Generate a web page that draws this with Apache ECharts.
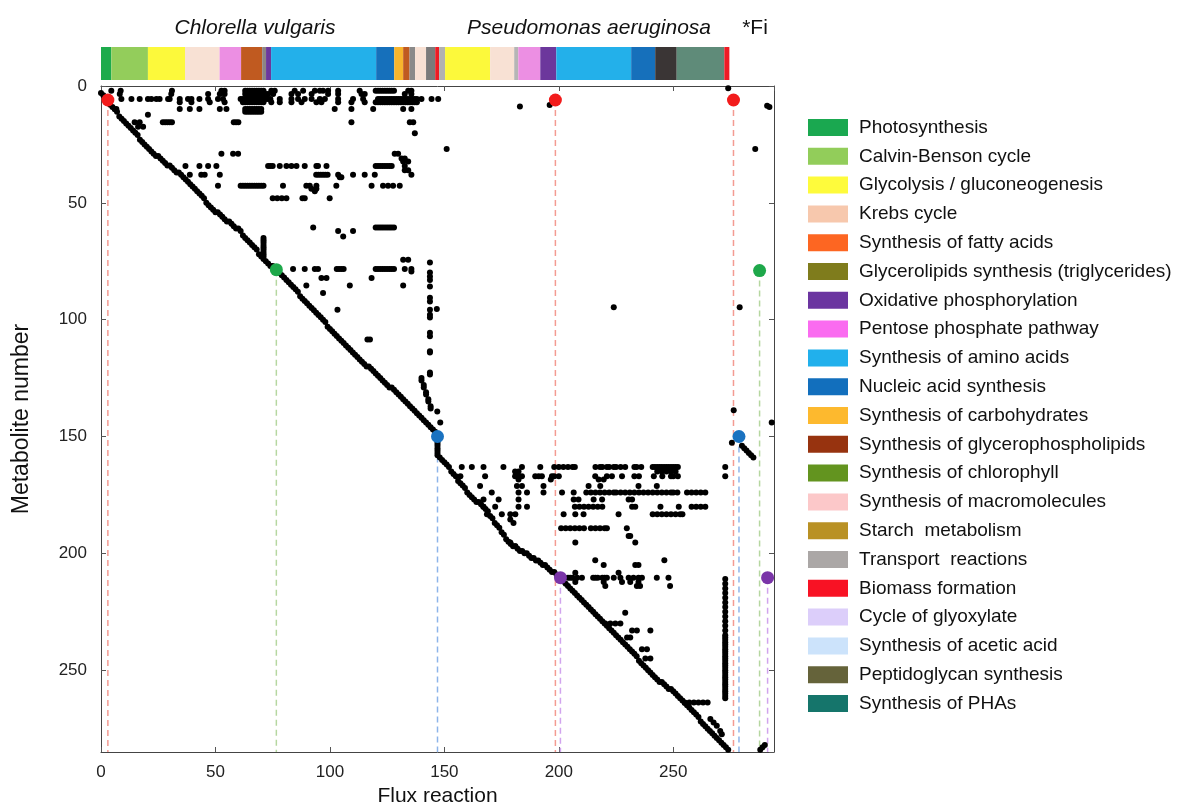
<!DOCTYPE html>
<html>
<head>
<meta charset="utf-8">
<script src="https://cdn.jsdelivr.net/npm/echarts@6/dist/echarts.min.js"></script>
<style>html,body{margin:0;padding:0;background:#fff}#chart{width:1184px;height:805px}</style>
</head>
<body>
<div id="chart"></div>
<script>
// ---------------- DATA ----------------
const xTicks = [0, 50, 100, 150, 200, 250];
const yTicks = [0, 50, 100, 150, 200, 250];

// Pathway colour strip above the matrix: segment edges (reaction number) and colours
const stripEdges = [0,4.5,20.5,36.7,51.8,61.2,70.4,72.1,74.3,120.2,128.1,132,134.8,137.2,142,146,147.7,150.3,170,180.5,182.3,191.9,198.9,231.6,242.1,251.5,272.3,274.5];
const stripColors = ['#1dab4c','#93cd5b','#fcf93b','#f8e1d4','#ec8fe3','#c05a20','#8c8585','#6c379c','#23b0ea','#1670bb','#f8b52d','#c05a20','#8a8a8a','#f8e1d4','#7b7b7b','#ee1c25','#b1b1b1','#fcf93b','#f8e1d4','#b5b5b5','#ec8fe3','#6c379c','#23b0ea','#1670bb','#3a3535','#5f8b79','#ee1c25'];

// Legend
const legendNames = ['Photosynthesis','Calvin-Benson cycle','Glycolysis / gluconeogenesis','Krebs cycle','Synthesis of fatty acids','Glycerolipids synthesis (triglycerides)','Oxidative phosphorylation','Pentose phosphate pathway','Synthesis of amino acids','Nucleic acid synthesis','Synthesis of carbohydrates','Synthesis of glycerophospholipids','Synthesis of chlorophyll','Synthesis of macromolecules','Starch  metabolism','Transport  reactions','Biomass formation','Cycle of glyoxylate','Synthesis of acetic acid','Peptidoglycan synthesis','Synthesis of PHAs'];
const legendColors = ['#1aa850','#92cd5a','#fefb3c','#f7c8ad','#fd6622','#7f7c1c','#6b35a0','#fa6bf0','#21b0ec','#126fbd','#fdb92e','#97330f','#63941f','#fcc8c9','#b99124','#aba7a6','#f81224','#dccefa','#cce3fb','#65633a','#15756b'];

// Diagonal: metabolite number for each flux reaction 0..274
const diagonalRows = [
 3,4,5,6,8,9,10,11,13,14,
 15,16,17,18,19,20,21,23,24,25,
 26,27,28,29,30,30,31,32,33,34,
 34,35,36,37,37,38,39,40,41,42,
 43,44,45,46,47,48,50,51,52,53,
 54,54,55,56,57,58,58,59,60,61,
 61,62,64,65,66,67,68,69,70,72,
 73,74,75,76,77,77,78,79,80,81,
 82,83,84,85,86,87,88,90,91,92,
 93,94,95,96,97,98,99,100,101,103,
 104,105,106,107,108,109,110,111,112,113,
 114,115,116,117,118,119,120,120,121,122,
 123,124,125,126,127,128,129,129,130,131,
 132,133,134,135,136,137,138,139,140,141,
 142,143,144,145,146,147,148,149,159,160,
 161,162,163,165,166,167,169,170,171,172,
 174,175,176,177,178,178,179,180,181,182,
 184,185,187,188,189,191,192,194,195,196,
 197,197,198,199,199,200,200,201,202,202,
 203,203,204,205,205,206,207,208,208,209,
 210,211,212,213,214,215,216,217,218,219,
 220,221,222,223,224,225,226,227,228,229,
 230,231,232,233,234,235,236,237,238,239,
 240,241,242,243,244,246,247,248,249,250,
 251,252,253,254,255,255,256,257,258,258,
 259,260,261,262,263,264,265,266,267,268,
 269,270,272,273,274,275,276,277,278,279,
 280,281,282,283,284
];

// Off-diagonal entries, Chlorella block: [metabolite, [reactions]]
const chlorellaRows = [
 [2, [4.5,8.6,31,52.6,54,63,64,65,66,67,68,69,70,71,74.4,75.9,84.6,88.3,93.4,95.6,97,99.2,103.6,113,120,121,122,123,124,125,126,127,128,134.2,135.6]],
 [3.4, [8.2,30.7,46.8,51.9,54,63,64,65,66,67,68,69,70,71,72,73,75.2,83.2,86.1,92,99.2,103.6,113.8,115.2,132.7,135.6]],
 [5.6, [8.9,13.3,16.9,20.5,22,24.2,25.6,29.3,30,34.4,38,39.5,43,46.8,51.1,53.3,61,62,63,64,65,66,67,68,69,70,71,72,73,74,78.1,83.2,86.1,89,92,95.6,97.8,103.6,110.1,114.5,121,122,123,124,125,126,127,128,129,130,131,132,133,134,135,136,137,138,140,144.4,147.3]],
 [7, [34.4,39.5,47.5,54,62,63,64,65,66,67,68,69,70,71,74.4,78.1,83.2,87.6,94.1,96.3,103.6,109.4,115.2,120,121,122,123,124,125,126,127,128,129,130,131,132,133,134,135,136,137,138]],
 [9.8, [6.7,34.4,38.8,43,51.9,54.8,63,64,65,66,67,68,69,70,102.1,109.4,118.9,132,135.6]],
 [11, [63,64,65,66,67,68,69,70]],
 [12.3, [20.5]],
 [15.5, [14.7,16.9,27,28,29,30,31,58,59,60,109.4,134.9,136.4]],
 [17.4, [16.2,18.4]],
 [20.2, [137.1]],
 [29, [52.6,57.7,59.9,128.3,129.8]],
 [31, [131.3,132.7]],
 [32.3, [132,134.2]],
 [34.2, [36.9,43,46.8,50.4,73,74,75,78.1,81,83.2,85.4,89,94.1,94.8,98.5,120,121,122,123,124,125,126,127,132.7]],
 [36, [132.7,134.2]],
 [38, [38.8,43.8,45.3,51.9,94,95,96,97,98,99,103.6,110.1,115.2,119.6,135.6]],
 [39, [104.3,105]],
 [42.7, [51.1,61,62,63,64,65,66,67,68,69,70,71,79.5,89.7,91.2,94.1,102.8,118.2,123.2,125.4,127.6,130.5]],
 [44, [91.9,94.1]],
 [45, [93.4]],
 [48, [75,77,79,81,88,89,99.9]],
 [60.5, [92.7,120,121,122,123,124,125,126,127,128]],
 [62, [103.6,110.1]],
 [64.4, [105.8]],
 [74.4, [132,134.2]],
 [78.3, [83.9,89,93.4,94.8,103,104,105,106,120,121,122,123,124,125,126,127,128,132.7,135.6]],
 [79.4, [135.6]],
 [82.2, [96.3,98.5,118.2]],
 [85.4, [89.7,108.7,132]],
 [88.6, [97]],
 [95.7, [103.3]],
 [108.5, [116.4,117.5]]
];

// Off-diagonal entries, Pseudomonas block: [metabolite, [reactions]]
const pseudomonasRows = [
 [163, [157.6,162,167.1,175.8,183.9,191.9,198,200,202,204,206,207,216,218,219,221,222,224,225,227,229,233,234,236,241,242,243,244,245,246,247,248,249,250,251,252]],
 [165, [180.9,182.4,243,245,247,249,251]],
 [167, [157,167.8,180.9,182.4,183.9,189.7,191.2,192.6,197,198,200,215.9,221,223.2,227.6,233,235,241.5,245.2,249,250,252]],
 [168.4, [182.4,196.5,217.4,219.6]],
 [171.2, [165.6,181.7,183.9,193.3,213,218.1,234.8,242.8]],
 [174, [170.7,182.4,186.1,193.3,201.4,206.5,212,214,216,218,220,222,224,225,227,229,231,233,235,237,239,241,243,245,247,249,250,251.8,256,258,260,262,264]],
 [177, [167.1,173.7,182.4,206.5,208.6,215.2,218.9,230.5,232]],
 [180, [167.1,172.2,182.4,186.1,207,209,211,213,215,217,219,232,233.4,244.4,252.4,258,260,262,264]],
 [183.3, [168.6,175.1,178.8,181,202.1,207.2,210.8,226.1,241,243,245,247,249,251,253,254]],
 [185.5, [178.8]],
 [187, [180.2]],
 [189.3, [201,203,205,207,209,211,214,216,218,220,221,229.7]],
 [192.6, [230.5,231.2]],
 [195.4, [178.8,207.2,233.4]],
 [197, [181]],
 [202.9, [215.9,246.1]],
 [205, [219.6,233.4,234.8]],
 [208.3, [207.2,226.1]],
 [210.4, [204,205,206,208,210.1,215,216,217,219,220,221,224,226.9,230.5,232.6,234.8,236.3,242.8,247.9]],
 [212.3, [207.2,219.6,227.6,231.2,234.8]],
 [214, [220.3,234.1,235.5,248.6]],
 [225.4, [229]],
 [230, [220.3,222.5,224.7,226.9]],
 [233, [232,234.1,240]],
 [236, [229.8,231.2]],
 [241, [236.3,238.5]],
 [245, [237.8,240]],
 [263.8, [255,257,259,261,263,265]],
 [270.9, [266.2]], [272.4, [267.6]], [273.8, [269]], [276, [270.5]], [277.4, [271.2]]
];

// Column-wise entries: [reaction, [metabolites]]
const columnEntries = [
 [71, [65,66,67,68,69,70,71,72,73]],
 [143.7, [75.5,79.8,81.5,83,85.8,90.6,92.2,95.7,97.9,99.1,105.6,107.1,113.5,114,122.6,123.5]],
 [140, [125,126]], [141, [128,129]], [142, [131,132]], [143, [134,135]], [144, [137,138]],
 [146.9, [139.3]], [148.2, [144]], [146.7, [95.4]],
 [147, [151,152,153,154,155,156,157,158]],
 [272.7, [163,167,211,213,215,217,219,221,223,225,227,229,231,233,235,236,237,238,239,240,241,242,243,244,245,246,247,248,249,250,251,252,253,254,255,256,257,258,259,260,261,262]]
];

// Exchange / biomass area entries: [reaction, metabolite]
const sideEntries = [
 [151,27],[183,8.8],[196,8.1],[224,94.7],[274,1],[285.8,27],[291,8.5],[292,9],[279,94.7],
 [276.4,138.8],[275.6,152.7],[280,154],[281,155],[282,156],[283,157],[284,158],[285,159],
 [293,144],[288,284],[289,283],[290,282]
];

// Highlighted coupling points
const hubX = [3, 198.5, 276.3, 76.6, 287.7, 147, 278.7, 200.7, 291.2];
const hubY = [6, 6, 6, 78.6, 79, 150, 150, 210.4, 210.4];
const hubColors = ['#f21c1c','#f21c1c','#f21c1c','#1ea84a','#1ea84a','#1a72c0','#1a72c0','#7a35a8','#7a35a8'];
const hubLineColors = ['#f39b92','#f39b92','#f39b92','#b6d7a0','#b6d7a0','#8db4ea','#8db4ea','#d1a4ee','#d1a4ee'];

const X_MAX = 294, Y_MAX = 285;

// ---------------- BUILD ----------------
const dots = [];
diagonalRows.forEach((r, c) => dots.push([c, r]));
chlorellaRows.forEach(([r, cs]) => cs.forEach(c => dots.push([c, r])));
pseudomonasRows.forEach(([r, cs]) => cs.forEach(c => dots.push([c, r])));
columnEntries.forEach(([c, rs]) => rs.forEach(r => dots.push([c, r])));
sideEntries.forEach(p => dots.push(p));

const stripData = [];
for (let i = 0; i < stripColors.length; i++) stripData.push([stripEdges[i], stripEdges[i + 1]]);

const FONT = "'Liberation Sans', Arial, Helvetica, sans-serif";
const series = [];

series.push({
  type: 'custom', xAxisIndex: 2, yAxisIndex: 2, silent: true,
  encode: { x: [0, 1] },
  data: stripData,
  renderItem: function (params, api) {
    const p0 = api.coord([api.value(0), 1]);
    const p1 = api.coord([api.value(1), 0]);
    return { type: 'rect', shape: { x: p0[0], y: p0[1], width: p1[0] - p0[0], height: p1[1] - p0[1] },
      style: { fill: stripColors[params.dataIndex] } };
  }
});

hubX.forEach((x, i) => {
  series.push({
    type: 'line', xAxisIndex: 0, yAxisIndex: 0, silent: true, symbol: 'none', z: 1,
    data: [[x, hubY[i]], [x, Y_MAX]],
    lineStyle: { color: hubLineColors[i], width: 1.5, type: [6, 4] }
  });
});

series.push({
  type: 'scatter', xAxisIndex: 0, yAxisIndex: 0, silent: true, z: 3,
  symbolSize: 6, itemStyle: { color: '#000', opacity: 1 }, data: dots
});

series.push({
  type: 'scatter', xAxisIndex: 0, yAxisIndex: 0, silent: true, z: 5,
  symbolSize: 13,
  data: hubX.map((x, i) => ({ value: [x, hubY[i]], itemStyle: { color: hubColors[i], opacity: 1 } }))
});

legendNames.forEach((n, i) => {
  series.push({ type: 'scatter', name: n, xAxisIndex: 0, yAxisIndex: 0, data: [], itemStyle: { color: legendColors[i], opacity: 1 } });
});

function axLine() { return { show: true, onZero: false, lineStyle: { color: '#444', width: 1 } }; }
function axTick() { return { show: true, inside: true, length: 5, lineStyle: { color: '#555', width: 1 } }; }

const option = {
  animation: false,
  backgroundColor: '#fff',
  grid: [
    { left: 101, top: 86, width: 673, height: 666, outerBoundsMode: 'none' },
    { left: 101, top: 47, width: 673, height: 33, outerBoundsMode: 'none' }
  ],
  xAxis: [
    { type: 'value', gridIndex: 0, position: 'bottom', min: 0, max: X_MAX, interval: 50,
      axisLine: axLine(), axisTick: axTick(), splitLine: { show: false },
      axisLabel: { fontSize: 17, color: '#222', fontFamily: FONT, margin: 12, showMaxLabel: false,
        formatter: v => (xTicks.indexOf(v) >= 0 ? String(v) : '') },
      name: 'Flux reaction', nameLocation: 'middle', nameGap: 29,
      nameTextStyle: { fontSize: 21, color: '#111', fontFamily: FONT } },
    { type: 'value', gridIndex: 0, position: 'top', min: 0, max: X_MAX, interval: 50,
      axisLine: axLine(), axisTick: axTick(), splitLine: { show: false }, axisLabel: { show: false } },
    { type: 'value', gridIndex: 1, min: 0, max: X_MAX, show: false }
  ],
  yAxis: [
    { type: 'value', gridIndex: 0, position: 'left', inverse: true, min: 0, max: Y_MAX, interval: 50,
      axisLine: axLine(), axisTick: axTick(), splitLine: { show: false },
      axisLabel: { fontSize: 17, color: '#222', fontFamily: FONT, margin: 14, showMaxLabel: false,
        formatter: v => (yTicks.indexOf(v) >= 0 ? String(v) : '') },
      name: 'Metabolite number', nameLocation: 'middle', nameGap: 68, nameRotate: 90,
      nameTextStyle: { fontSize: 23, color: '#111', fontFamily: FONT } },
    { type: 'value', gridIndex: 0, position: 'right', inverse: true, min: 0, max: Y_MAX, interval: 50,
      axisLine: axLine(), axisTick: axTick(), splitLine: { show: false }, axisLabel: { show: false } },
    { type: 'value', gridIndex: 1, min: 0, max: 1, show: false }
  ],
  legend: {
    orient: 'vertical', left: 803, top: 113, itemWidth: 40, itemHeight: 17, itemGap: 9.8,
    icon: 'rect', selectedMode: false, data: legendNames,
    textStyle: { fontSize: 19, lineHeight: 19, color: '#111', fontFamily: FONT, padding: [0, 0, 0, 6] }
  },
  graphic: [
    { type: 'text', x: 255, y: 28, style: { text: 'Chlorella vulgaris', textAlign: 'center', textVerticalAlign: 'middle', font: 'italic 21px ' + FONT, fill: '#111' } },
    { type: 'text', x: 589, y: 28, style: { text: 'Pseudomonas aeruginosa', textAlign: 'center', textVerticalAlign: 'middle', font: 'italic 21px ' + FONT, fill: '#111' } },
    { type: 'text', x: 755, y: 28, style: { text: '*Fi', textAlign: 'center', textVerticalAlign: 'middle', font: '21px ' + FONT, fill: '#111' } }
  ],
  series: series
};

const chart = echarts.init(document.getElementById('chart'), null, { renderer: 'canvas' });
chart.setOption(option);
</script>
</body>
</html>
